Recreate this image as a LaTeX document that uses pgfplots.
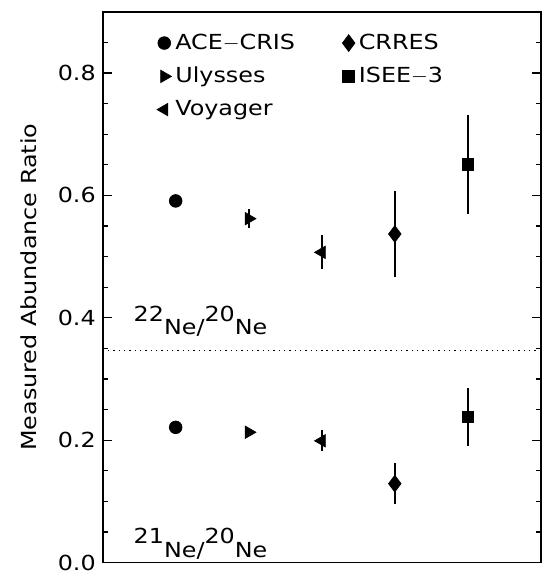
\documentclass[border=0pt]{standalone}
\usepackage{fontspec}
\setmainfont{DejaVu Sans}[FakeStretch=1.15]
\usepackage{pgfplots}
\pgfplotsset{compat=1.18}
\begin{document}
\begin{tikzpicture}
\begin{axis}[
  scale only axis,
  width=222pt, height=279pt,
  xmin=0, xmax=6, ymin=0, ymax=0.9,
  xtick=\empty,
  ytick={0,0.2,0.4,0.6,0.8},
  minor ytick={0.05,0.1,0.15,0.25,0.3,0.35,0.45,0.5,0.55,0.65,0.7,0.75,0.85},
  yticklabel style={/pgf/number format/fixed, /pgf/number format/fixed zerofill, /pgf/number format/precision=1},
  /pgf/number format/assume math mode=true,
  tick align=inside,
  ytick pos=both,
  yticklabel pos=left,
  major tick length=4.5pt, minor tick length=2.5pt,
  tick style={black, line width=0.6pt},
  ylabel={Measured Abundance Ratio},
  ylabel style={yshift=4pt},
  font=\fontsize{10.5}{12}\selectfont,
  axis line style={line width=0.9pt},
  legend style={draw=none, fill=none, at={(0.11,0.975)}, anchor=north west,
    legend columns=2, font=\fontsize{10.5}{12}\selectfont,
    /tikz/every even column/.append style={column sep=22pt}, row sep=3.5pt},
  legend cell align=left,
  error bars/error bar style={line width=0.8pt, black},
]
\addplot[only marks, mark=*, mark size=3.2pt, black,
  error bars/.cd, y dir=both, y explicit, error mark=none]
  coordinates {(1,0.591) +- (0,0) (1,0.221) +- (0,0)};
\addlegendentry{ACE$-$CRIS}
\addplot[only marks, mark=diamond*, mark size=4.2pt, black,
  error bars/.cd, y dir=both, y explicit, error mark=none]
  coordinates {(4,0.537) +- (0,0.071) (4,0.129) +- (0,0.033)};
\addlegendentry{CRRES}
\addplot[only marks, mark=triangle*, mark size=3.6pt, mark options={rotate=-90}, black,
  error bars/.cd, y dir=both, y explicit, error mark=none]
  coordinates {(2,0.562) +- (0,0.015) (2,0.213) +- (0,0.006)};
\addlegendentry{Ulysses}
\addplot[only marks, mark=square*, mark size=3pt, black,
  error bars/.cd, y dir=both, y explicit, error mark=none]
  coordinates {(5,0.651) +- (0,0.081) (5,0.238) +- (0,0.047)};
\addlegendentry{ISEE$-$3}
\addplot[only marks, mark=triangle*, mark size=3.6pt, mark options={rotate=90}, black,
  error bars/.cd, y dir=both, y explicit, error mark=none]
  coordinates {(3,0.507) +- (0,0.028) (3,0.199) +- (0,0.017)};
\addlegendentry{Voyager}
\addplot[black, dotted, line width=0.7pt, forget plot] coordinates {(0,0.347) (6,0.347)};
\node[anchor=base west, inner sep=0pt] at (axis cs:0.42,0.372)
  {\raisebox{7pt}{22}Ne/\raisebox{7pt}{20}Ne};
\node[anchor=base west, inner sep=0pt] at (axis cs:0.42,0.008)
  {\raisebox{7pt}{21}Ne/\raisebox{7pt}{20}Ne};
\end{axis}
\path ([shift={(-52pt,-3.5pt)}]current axis.south west) rectangle ([shift={(1.5pt,6pt)}]current axis.north east);
\end{tikzpicture}
\end{document}
